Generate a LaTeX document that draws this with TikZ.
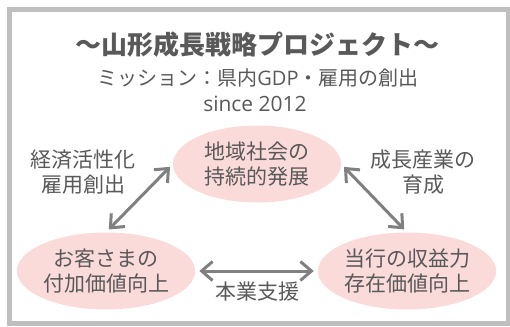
\documentclass[tikz,border=0pt]{standalone}
\usepackage{fontspec}
\setmainfont{Noto Sans CJK JP}
\newfontfamily\latinfont{Open Sans}
\usetikzlibrary{arrows.meta,shapes.geometric}
\definecolor{txt}{RGB}{89,89,89}
\definecolor{pinkfill}{RGB}{251,218,218}
\definecolor{arrgray}{RGB}{128,128,128}
\definecolor{framegray}{RGB}{191,191,191}
\tikzset{
  bubble/.style={ellipse, fill=pinkfill, minimum width=168pt, minimum height=77pt, inner sep=0pt, text=txt, font=\fontsize{21}{25}\selectfont, align=center},
  lbl/.style={text=txt, font=\fontsize{21}{25}\selectfont, align=center, inner sep=0pt},
  arr/.style={draw=arrgray, line width=3pt, {Straight Barb[length=11pt,width=19pt,line width=3pt]}-{Straight Barb[length=11pt,width=19pt,line width=3pt]}, shorten <=4pt, shorten >=4pt},
}
\begin{document}
\begin{tikzpicture}[x=1pt,y=-1pt]
\useasboundingbox (0,0) rectangle (510,326);
\fill[white] (0,0) rectangle (510,326);
\draw[framegray, line width=5pt] (9.5,9.5) rectangle (508,323.5);
\node[text=txt, font=\fontsize{26}{30}\selectfont\bfseries, inner sep=0pt] (title) at (257,45) {～山形成長戦略プロジェクト～};
\node[text=txt, font=\fontsize{20}{24}\selectfont, inner sep=0pt] (mission) at (258,78) {ミッション：県内{\latinfont GDP}・雇用の創出};
\node[text=txt, font=\fontsize{21}{24}\selectfont\latinfont, inner sep=0pt] (since) at (255,104) {since 2012};
\node[bubble] (top) at (257,164) {地域社会の\\持続的発展};
\node[bubble] (left) at (106,271) {お客さまの\\付加価値向上};
\node[bubble] (right) at (407,271) {当行の収益力\\存在価値向上};
\node[lbl] (l1) at (83,172) {経済活性化\\雇用創出};
\node[lbl] (l2) at (423,172) {成長産業の\\育成};
\node[lbl] (l3) at (257,292) {本業支援};
\draw[arr] (top.west) -- (left.north);
\draw[arr] (top.east) -- (right.north);
\draw[arr] (left.east) -- (right.west);
\end{tikzpicture}
\end{document}
